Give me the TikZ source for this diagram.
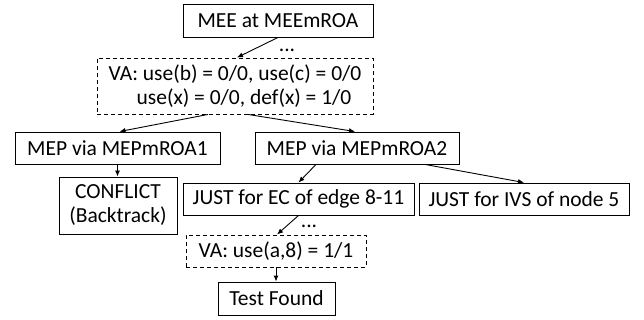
\documentclass[tikz,border=0pt]{standalone}
\usepackage{fontspec}
\setmainfont{Carlito}
\usetikzlibrary{arrows.meta}
\begin{document}
\begin{tikzpicture}[x=1pt,y=-1pt,
  box/.style={draw,line width=0.9pt,inner sep=0pt,align=center,font=\fontsize{21.5}{24}\selectfont},
  dbox/.style={box,dash pattern=on 4pt off 3pt},
  arr/.style={line width=0.9pt,-{Latex[length=6pt,width=5pt]}},
  dots/.style={inner sep=0pt,font=\fontsize{21.5}{24}\selectfont}]
\useasboundingbox (0,0) rectangle (644,320);
\node[box,minimum width=190pt,minimum height=33pt] (mee) at (278,20.5) {MEE at MEEmROA};
\node[dbox,minimum width=276pt,minimum height=56pt] (va1) at (235,86) {VA: use(b) = 0/0, use(c) = 0/0\\ \hspace*{18pt}use(x) = 0/0, def(x) = 1/0};
\node[box,minimum width=205pt,minimum height=32pt] (mep1) at (117.5,148) {MEP via MEPmROA1};
\node[box,minimum width=204pt,minimum height=32pt] (mep2) at (357,148) {MEP via MEPmROA2};
\node[box,minimum width=118pt,minimum height=57pt] (conf) at (118,205.5) {CONFLICT\\(Backtrack)};
\node[box,minimum width=231pt,minimum height=32pt] (jec) at (298.5,199) {JUST for EC of edge 8-11};
\node[box,minimum width=210pt,minimum height=32pt] (jivs) at (524,199) {JUST for IVS of node 5};
\node[dbox,minimum width=180pt,minimum height=32pt] (va2) at (276,251) {VA: use(a,8) = 1/1};
\node[box,minimum width=117pt,minimum height=33pt] (tf) at (276.5,298.5) {Test Found};
\node[dots] (d1) at (287,50) {...};
\node[dots] (d2) at (309,226) {...};
\draw[arr] (mee.south) -- ([xshift=2pt]va1.north);
\draw[arr] ([xshift=-27pt]va1.south) -- ([xshift=2pt]mep1.north);
\draw[arr] ([xshift=13pt]va1.south) -- ([xshift=-2pt]mep2.north);
\draw[arr] (mep1.south) -- (conf.north -| mep1.south);
\draw[arr] ([xshift=-41pt]mep2.south) -- (jec.north);
\draw[arr] ([xshift=68pt]mep2.south) -- (jivs.north);
\draw[arr] (jec.south) -- ([xshift=1pt]va2.north);
\draw[arr] (va2.south) -- (va2.south |- tf.north);
\end{tikzpicture}
\end{document}
